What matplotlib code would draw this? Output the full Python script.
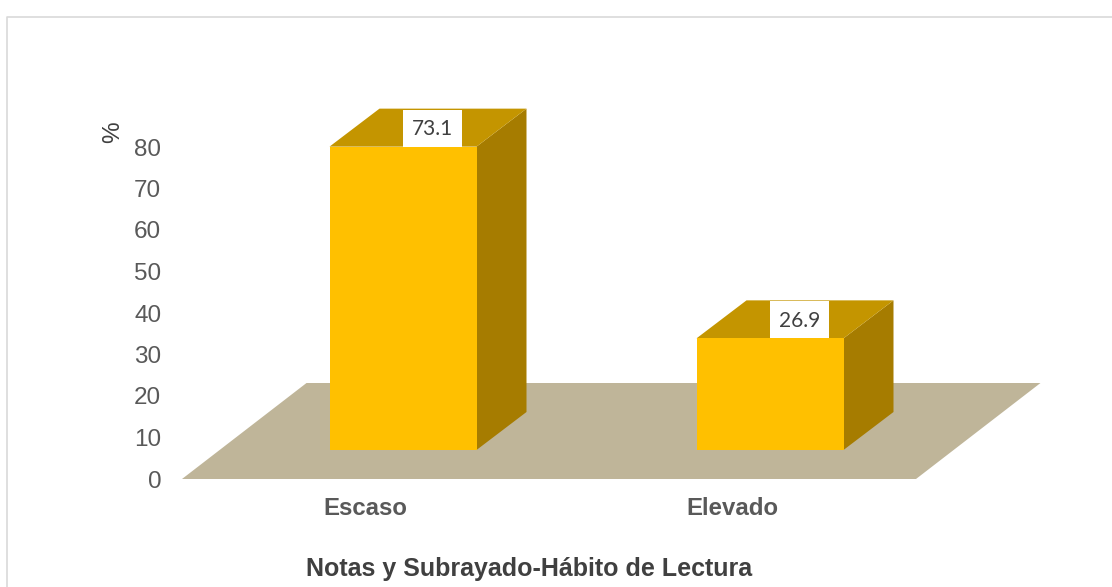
import matplotlib
matplotlib.use("Agg")
import matplotlib.pyplot as plt
from matplotlib.patches import Polygon, Rectangle

categories = ["Escaso", "Elevado"]
values = [73.1, 26.9]
yticks = [0, 10, 20, 30, 40, 50, 60, 70, 80]
xtitle = "Notas y Subrayado-Hábito de Lectura"
ylabel_text = "%"

W, H = 1112, 587
fig = plt.figure(figsize=(W / 100, H / 100), dpi=100, facecolor="white")
frame = fig.add_axes([0, 0, 1, 1], zorder=0)
frame.set_xlim(0, W); frame.set_ylim(H, 0); frame.axis("off")
frame.plot([7, 7, 1112], [H + 5, 17, 17], color="#D9D9D9", lw=1.2, clip_on=False)

# plot area: floor front edge 182..916 px, value 0..80 at 479..147 px
ax = fig.add_axes([182 / W, 1 - 479 / H, 734 / W, 332 / H], zorder=1)
ax.set_xlim(-0.5, 1.5)
ax.set_ylim(0, 80)
ax.patch.set_alpha(0)
for s in ax.spines.values():
    s.set_visible(False)

pxx = 2 / 734
pxy = 80 / 332

floor_dx, floor_dy = 124.5 * pxx, 96 * pxy
ax.add_patch(Polygon([(-0.5, 0), (1.5, 0), (1.5 + floor_dx, floor_dy), (-0.5 + floor_dx, floor_dy)],
                     closed=True, fc="#BFB599", ec="none", clip_on=False, zorder=1))

bw = 147 * pxx
off_x, off_y = 37.5 * pxx, 29 * pxy
dx, dy = 50 * pxx, 38 * pxy
for i, v in enumerate(values):
    x0 = i + off_x - bw / 2
    x1 = x0 + bw
    y0 = off_y
    y1 = y0 + v
    ax.add_patch(Polygon([(x1, y0), (x1 + dx, y0 + dy), (x1 + dx, y1 + dy), (x1, y1)],
                         closed=True, fc="#A67C00", ec="none", clip_on=False, zorder=2))
    ax.add_patch(Polygon([(x0, y1), (x1, y1), (x1 + dx, y1 + dy), (x0 + dx, y1 + dy)],
                         closed=True, fc="#C49500", ec="none", clip_on=False, zorder=2))
    ax.add_patch(Rectangle((x0, y0), bw, v, fc="#FFC000", ec="none", clip_on=False, zorder=3))
    bx = i + off_x
    ax.add_patch(Rectangle((bx, y1), 59 * pxx, dy - 1 * pxy, fc="white", ec="none", clip_on=False, zorder=4))
    ax.text(bx + 29.5 * pxx, y1 + dy / 2 - 1.5 * pxy, f"{v:.1f}", ha="center", va="center",
            fontsize=15, color="#404040", family="Lato", clip_on=False, zorder=5)

ax.set_xticks([0, 1])
ax.set_xticklabels(categories, fontsize=17.3, fontweight="bold", color="#595959", family="Liberation Sans")
ax.set_yticks(yticks)
ax.set_yticklabels([str(t) for t in yticks], fontsize=17.5, color="#595959", family="Liberation Sans")
ax.tick_params(axis="both", length=0)
ax.tick_params(axis="x", pad=13)
ax.tick_params(axis="y", pad=15)
for lab in ax.get_yticklabels():
    lab.set_y(lab.get_position()[1])

fig.text(113 / W, 1 - 132 / H, ylabel_text, rotation=90, ha="center", va="center",
         fontsize=17.5, color="#404040", family="Liberation Sans")
fig.text(529 / W, 1 - 569 / H, xtitle, ha="center", va="center",
         fontsize=18, fontweight="bold", color="#404040", family="Liberation Sans")

fig.savefig("out.png", dpi=100, facecolor="white")
